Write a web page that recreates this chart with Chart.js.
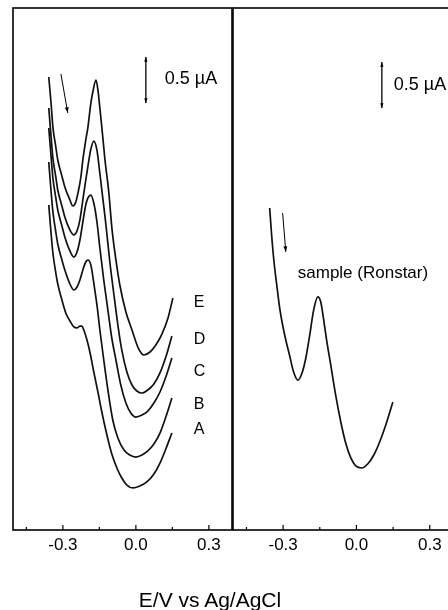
<!DOCTYPE html>
<html>
<head>
<meta charset="utf-8">
<script src="https://cdn.jsdelivr.net/npm/chart.js@4"></script>
<style>
  html, body { margin: 0; padding: 0; background: #fff; }
  body { width: 448px; height: 610px; overflow: hidden; position: relative; font-family: "Liberation Sans", Arial, sans-serif; }
  .panel { position: absolute; top: 0; width: 240px; height: 610px; }
  #left { left: 0; }
  #right { left: 220px; }
  #xtitle { position: absolute; left: 0; top: 589px; width: 420px; text-align: center; font-size: 21px; line-height: 21px; color: #000; }
</style>
</head>
<body>
<div class="panel" id="left"><canvas id="leftChart" width="240" height="610"></canvas></div>
<div class="panel" id="right"><canvas id="rightChart" width="240" height="610"></canvas></div>
<div id="xtitle">E/V vs Ag/AgCl</div>
<script>
// Voltammograms: [potential (V vs Ag/AgCl), current (µA, arbitrary offset)]
const curveE = [[-0.358,4.924],[-0.349,4.652],[-0.341,4.380],[-0.329,4.163],[-0.321,4.022],[-0.304,3.848],[-0.292,3.728],[-0.271,3.587],[-0.259,3.522],[-0.247,3.565],[-0.238,3.663],[-0.226,3.837],[-0.218,4.022],[-0.206,4.239],[-0.197,4.380],[-0.185,4.641],[-0.177,4.761],[-0.164,4.891],[-0.156,4.783],[-0.148,4.587],[-0.140,4.380],[-0.127,4.022],[-0.111,3.663],[-0.099,3.293],[-0.082,2.935],[-0.066,2.663],[-0.041,2.370],[-0.016,2.174],[0.008,1.989],[0.033,1.902],[0.058,1.935],[0.082,2.011],[0.107,2.130],[0.132,2.304],[0.152,2.522]];
const curveD = [[-0.358,4.587],[-0.349,4.293],[-0.341,4.043],[-0.329,3.837],[-0.321,3.696],[-0.304,3.522],[-0.292,3.402],[-0.271,3.261],[-0.255,3.207],[-0.242,3.250],[-0.230,3.370],[-0.218,3.587],[-0.206,3.804],[-0.193,4.022],[-0.185,4.141],[-0.173,4.228],[-0.160,4.130],[-0.152,3.967],[-0.140,3.696],[-0.123,3.315],[-0.107,2.913],[-0.090,2.554],[-0.074,2.228],[-0.058,1.957],[-0.037,1.717],[-0.016,1.576],[0.004,1.511],[0.025,1.489],[0.049,1.522],[0.074,1.587],[0.099,1.707],[0.123,1.880],[0.148,2.109]];
const curveC = [[-0.358,4.370],[-0.349,4.076],[-0.341,3.826],[-0.329,3.609],[-0.321,3.478],[-0.304,3.304],[-0.292,3.185],[-0.271,3.033],[-0.255,2.967],[-0.242,3.022],[-0.230,3.152],[-0.218,3.348],[-0.206,3.533],[-0.197,3.609],[-0.185,3.641],[-0.173,3.554],[-0.160,3.348],[-0.148,3.065],[-0.132,2.717],[-0.115,2.391],[-0.099,2.087],[-0.082,1.848],[-0.062,1.576],[-0.041,1.380],[-0.021,1.272],[0.000,1.228],[0.025,1.250],[0.049,1.293],[0.074,1.380],[0.099,1.500],[0.123,1.663],[0.148,1.870]];
const curveB = [[-0.358,4.000],[-0.349,3.696],[-0.341,3.457],[-0.329,3.239],[-0.321,3.109],[-0.304,2.935],[-0.292,2.826],[-0.271,2.674],[-0.255,2.609],[-0.242,2.641],[-0.230,2.717],[-0.218,2.826],[-0.206,2.913],[-0.197,2.935],[-0.185,2.880],[-0.173,2.685],[-0.160,2.446],[-0.148,2.174],[-0.132,1.848],[-0.115,1.522],[-0.095,1.196],[-0.074,1.000],[-0.049,0.870],[-0.025,0.815],[0.000,0.793],[0.025,0.815],[0.049,0.859],[0.074,0.935],[0.099,1.054],[0.123,1.228],[0.148,1.435]];
const curveA = [[-0.358,3.533],[-0.349,3.239],[-0.341,3.011],[-0.329,2.793],[-0.321,2.674],[-0.304,2.500],[-0.288,2.359],[-0.271,2.272],[-0.255,2.207],[-0.242,2.196],[-0.230,2.217],[-0.222,2.217],[-0.214,2.174],[-0.201,2.065],[-0.189,1.935],[-0.173,1.717],[-0.156,1.500],[-0.140,1.283],[-0.119,1.033],[-0.099,0.826],[-0.078,0.674],[-0.058,0.565],[-0.037,0.489],[-0.012,0.457],[0.016,0.478],[0.045,0.522],[0.074,0.609],[0.099,0.728],[0.123,0.880],[0.148,1.054]];
const curveSample = [[-0.355,3.500],[-0.347,3.207],[-0.338,2.935],[-0.326,2.663],[-0.314,2.413],[-0.302,2.228],[-0.289,2.065],[-0.273,1.891],[-0.257,1.717],[-0.240,1.630],[-0.224,1.696],[-0.207,1.870],[-0.191,2.120],[-0.175,2.391],[-0.158,2.533],[-0.146,2.478],[-0.134,2.283],[-0.122,2.065],[-0.105,1.793],[-0.085,1.467],[-0.064,1.174],[-0.044,0.946],[-0.023,0.783],[-0.003,0.696],[0.022,0.674],[0.046,0.717],[0.071,0.815],[0.095,0.957],[0.120,1.141],[0.149,1.391]];

const standardNames = ["E", "D", "C", "B", "A"];
const standardCurves = [curveE, curveD, curveC, curveB, curveA];
const potentialTicks = [-0.45, -0.3, -0.15, 0, 0.15, 0.3];

Chart.defaults.font.family = "'Liberation Sans', Arial, sans-serif";

const isMajor = (v) => Math.abs(v / 0.3 - Math.round(v / 0.3)) < 1e-6;

// line with arrow head(s)
const arrow = (ctx, x1, y1, x2, y2, head, both) => {
  ctx.beginPath();
  ctx.moveTo(x1, y1);
  ctx.lineTo(x2, y2);
  ctx.stroke();
  const tip = (ax, ay, bx, by) => {
    const ang = Math.atan2(by - ay, bx - ax);
    ctx.beginPath();
    ctx.moveTo(bx, by);
    ctx.lineTo(bx - head * Math.cos(ang - 0.33), by - head * Math.sin(ang - 0.33));
    ctx.lineTo(bx - head * Math.cos(ang + 0.33), by - head * Math.sin(ang + 0.33));
    ctx.closePath();
    ctx.fill();
  };
  tip(x1, y1, x2, y2);
  if (both) tip(x2, y2, x1, y1);
};

// frame, inward ticks and the annotations of each panel
const panelMarks = {
  id: "marks",
  afterDatasetsDraw(chart, args, opts) {
    const { ctx, chartArea: a, scales: { x, y } } = chart;
    const X = (v) => x.getPixelForValue(v);
    const Y = (v) => y.getPixelForValue(v);
    ctx.save();
    ctx.strokeStyle = "#000";
    ctx.fillStyle = "#000";
    ctx.lineWidth = 1.6;
    ctx.strokeRect(a.left, a.top, a.right - a.left, a.bottom - a.top);

    ctx.lineWidth = 1.2;
    x.ticks.forEach((t) => {
      const px = X(t.value);
      const len = isMajor(t.value) ? 5 : 3;
      ctx.beginPath();
      ctx.moveTo(px, a.bottom);
      ctx.lineTo(px, a.bottom - len);
      ctx.stroke();
    });

    // sweep direction
    ctx.lineWidth = 1;
    const [p, q] = opts.sweep;
    arrow(ctx, X(p[0]), Y(p[1]), X(q[0]), Y(q[1]), 6);

    // current scale bar
    const s = opts.scaleBar;
    ctx.lineWidth = 1.3;
    arrow(ctx, X(s.x), Y(s.from), X(s.x), Y(s.to), 5, true);
    ctx.textBaseline = "middle";
    ctx.textAlign = "left";
    ctx.font = "18px 'Liberation Sans', Arial, sans-serif";
    ctx.fillText("0.5 \u00b5A", X(s.textX), Y(s.textY));

    ctx.font = opts.labelFont;
    opts.labels.forEach((l) => ctx.fillText(l.text, X(l.x), Y(l.y)));
    ctx.restore();
  }
};

const xScale = () => ({
  type: "linear",
  min: -0.505,
  max: 0.395,
  afterBuildTicks: (axis) => { axis.ticks = potentialTicks.map((value) => ({ value })); },
  afterFit: (axis) => { axis.height = 80; },
  grid: { display: false, drawTicks: false },
  border: { display: false },
  ticks: {
    autoSkip: false,
    maxRotation: 0,
    padding: 5,
    color: "#000",
    font: { size: 17 },
    callback: (v) => (isMajor(v) ? (Math.abs(v) < 1e-9 ? "0.0" : v.toFixed(1)) : "")
  }
});

const makeChart = (id, curves, padding, marks) =>
  new Chart(document.getElementById(id), {
    type: "line",
    data: {
      datasets: curves.map((data) => ({
        data,
        borderColor: "#111",
        borderWidth: 1.7,
        pointRadius: 0,
        cubicInterpolationMode: "monotone",
        fill: false
      }))
    },
    options: {
      responsive: false,
      animation: false,
      devicePixelRatio: 1,
      layout: { padding },
      plugins: { legend: { display: false }, tooltip: { enabled: false }, marks },
      scales: {
        x: xScale(),
        y: { type: "linear", display: false, min: 0, max: 5.674 }
      }
    },
    plugins: [panelMarks]
  });

// standards A-E
makeChart("leftChart", standardCurves, { left: 13, right: 8, top: 8, bottom: 0 }, {
  sweep: [[-0.308, 4.957], [-0.280, 4.533]],
  scaleBar: { x: 0.041, from: 4.641, to: 5.141, textX: 0.119, textY: 4.902 },
  labelFont: "16px 'Liberation Sans', Arial, sans-serif",
  labels: [
    { text: standardNames[0], x: 0.238, y: 2.467 },
    { text: standardNames[1], x: 0.238, y: 2.065 },
    { text: standardNames[2], x: 0.238, y: 1.717 },
    { text: standardNames[3], x: 0.238, y: 1.359 },
    { text: standardNames[4], x: 0.238, y: 1.087 }
  ]
});

// sample (Ronstar)
makeChart("rightChart", [curveSample], { left: 13, right: 7, top: 8, bottom: 0 }, {
  sweep: [[-0.302, 3.446], [-0.289, 3.022]],
  scaleBar: { x: 0.104, from: 4.587, to: 5.087, textX: 0.153, textY: 4.837 },
  labelFont: "17px 'Liberation Sans', Arial, sans-serif",
  labels: [{ text: "sample (Ronstar)", x: -0.240, y: 2.793 }]
});
</script>
</body>
</html>
